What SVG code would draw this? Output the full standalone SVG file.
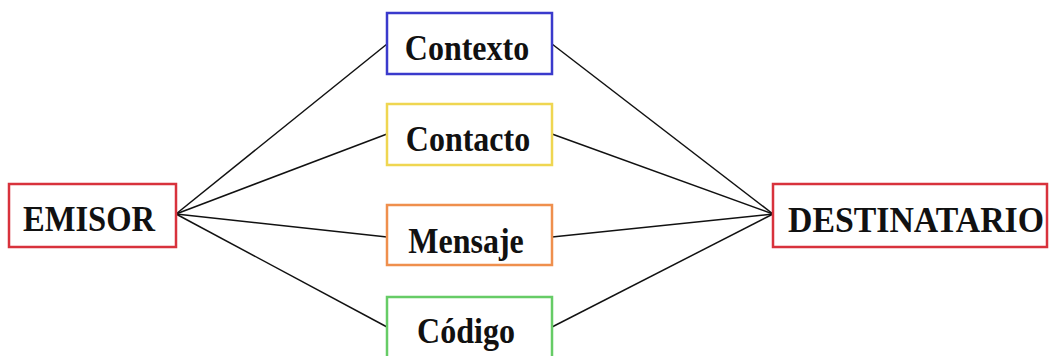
<svg xmlns="http://www.w3.org/2000/svg" width="1050" height="356" viewBox="0 0 1050 356">
<style>
.box{fill:#ffffff;stroke-width:2.5}
.lbl{font-family:"Liberation Serif","Times New Roman",serif;font-weight:bold;font-size:32px;fill:#111;text-anchor:middle}
.conn{stroke:#111;stroke-width:1.5;fill:none}
</style>
<rect width="1050" height="356" fill="#ffffff"/>
<g id="connectors">
<line class="conn" x1="176" y1="214" x2="387" y2="44"/>
<line class="conn" x1="176" y1="214" x2="387" y2="134"/>
<line class="conn" x1="176" y1="214" x2="387" y2="237"/>
<line class="conn" x1="176" y1="214" x2="387" y2="327"/>
<line class="conn" x1="552" y1="44" x2="773" y2="214"/>
<line class="conn" x1="552" y1="134" x2="773" y2="214"/>
<line class="conn" x1="552" y1="237" x2="773" y2="214"/>
<line class="conn" x1="552" y1="327" x2="773" y2="214"/>
</g>
<g id="emisor">
<rect class="box" x="9" y="184" width="167" height="63" stroke="#d8323c"/>
<text class="lbl" transform="translate(89,231) scale(1,1.15)" textLength="132" lengthAdjust="spacingAndGlyphs">EMISOR</text>
</g>
<g id="contexto">
<rect class="box" x="387" y="13" width="165" height="61" stroke="#3a3acc"/>
<text class="lbl" transform="translate(467,60) scale(1,1.15)">Contexto</text>
</g>
<g id="contacto">
<rect class="box" x="387" y="104" width="165" height="61" stroke="#efd651"/>
<text class="lbl" transform="translate(468,151) scale(1,1.15)">Contacto</text>
</g>
<g id="mensaje">
<rect class="box" x="387" y="205" width="165" height="60" stroke="#ef8f4d"/>
<text class="lbl" transform="translate(466,253) scale(1,1.15)">Mensaje</text>
</g>
<g id="codigo">
<rect class="box" x="387" y="297" width="165" height="64" stroke="#66cc66"/>
<text class="lbl" transform="translate(466,343) scale(1,1.15)">Código</text>
</g>
<g id="destinatario">
<rect class="box" x="773" y="184" width="274" height="63" stroke="#d8323c"/>
<text class="lbl" transform="translate(916,232) scale(1,1.15)" textLength="256" lengthAdjust="spacingAndGlyphs">DESTINATARIO</text>
</g>
</svg>
